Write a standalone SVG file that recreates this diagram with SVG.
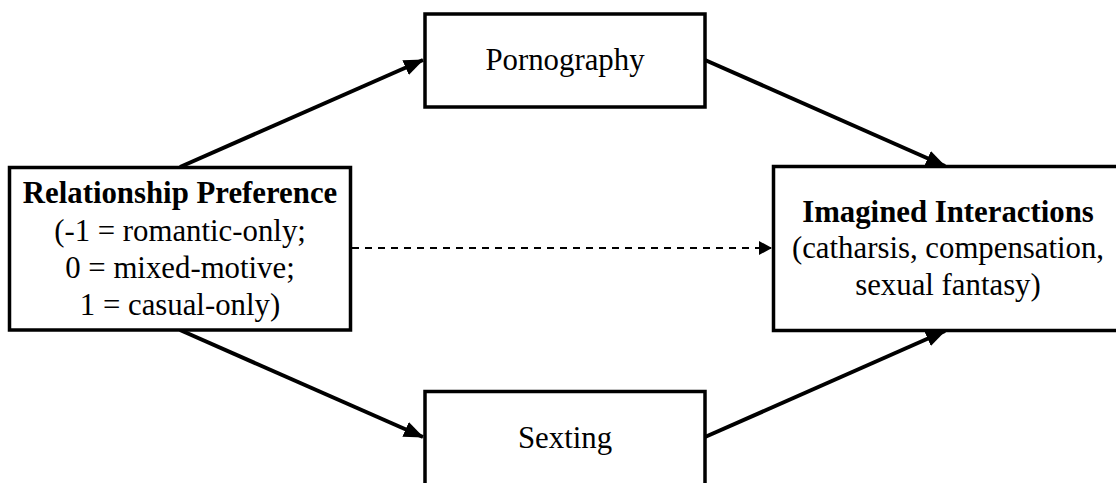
<svg xmlns="http://www.w3.org/2000/svg" width="1116" height="483" viewBox="0 0 1116 483">
<style>
.box{fill:#fff;stroke:#000;stroke-width:3.5}
.t{font-family:"Liberation Serif","Times New Roman",serif;font-size:30.8px;fill:#000;text-anchor:middle}
.b{font-weight:bold}
.c{stroke:#000;stroke-width:4;fill:none}
.d{stroke:#000;stroke-width:2;fill:none;stroke-dasharray:7 6}
</style>
<defs>
<marker id="ah" markerUnits="userSpaceOnUse" markerWidth="20" markerHeight="16" refX="19" refY="8" orient="auto">
<path d="M0,0 L20,8 L0,16 Z" fill="#000"/>
</marker>
<marker id="ahs" markerUnits="userSpaceOnUse" markerWidth="13" markerHeight="14" refX="12" refY="7" orient="auto">
<path d="M0,0 L13,7 L0,14 Z" fill="#000"/>
</marker>
</defs>
<g id="connectors">
<line class="c" x1="180" y1="167" x2="423" y2="60" marker-end="url(#ah)"/>
<line class="c" x1="180" y1="330" x2="423" y2="437" marker-end="url(#ah)"/>
<line class="c" x1="705" y1="60" x2="945" y2="166" marker-end="url(#ah)"/>
<line class="c" x1="705" y1="437" x2="945" y2="331" marker-end="url(#ah)"/>
<line class="d" x1="352" y1="248" x2="771" y2="248" marker-end="url(#ahs)"/>
</g>
<g id="relationship">
<rect class="box" x="9.5" y="167.5" width="341" height="162.5"/>
<text class="t b" x="180" y="203">Relationship Preference</text>
<text class="t" x="180" y="240.5">(-1 = romantic-only;</text>
<text class="t" x="180" y="278">0 = mixed-motive;</text>
<text class="t" x="180" y="315">1 = casual-only)</text>
</g>
<g id="pornography">
<rect class="box" x="425" y="14" width="280" height="93"/>
<text class="t" x="565" y="70">Pornography</text>
</g>
<g id="sexting">
<rect class="box" x="425" y="391.5" width="280" height="100"/>
<text class="t" x="565" y="448">Sexting</text>
</g>
<g id="imagined">
<rect class="box" x="773.5" y="166.5" width="360" height="164"/>
<text class="t b" x="948" y="221.5">Imagined Interactions</text>
<text class="t" x="948" y="258">(catharsis, compensation,</text>
<text class="t" x="948" y="295">sexual fantasy)</text>
</g>
</svg>
